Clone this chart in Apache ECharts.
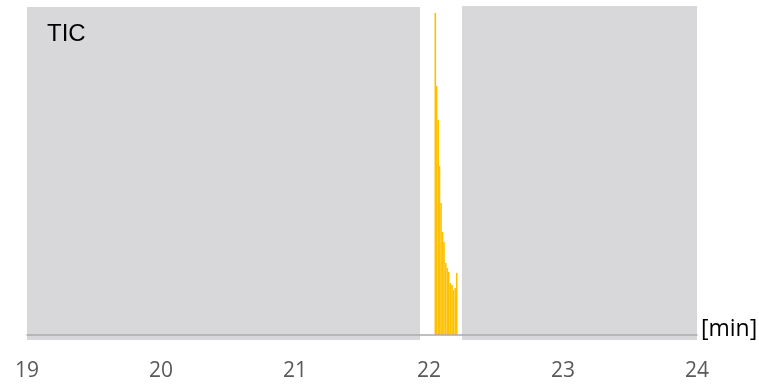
<!DOCTYPE html>
<html>
<head>
<meta charset="utf-8">
<script src="https://cdn.jsdelivr.net/npm/echarts@6/dist/echarts.min.js"></script>
<style>html,body{margin:0;padding:0;background:#fff}#c{width:759px;height:387px}</style>
</head>
<body>
<div id="c"></div>
<script>
// Retention time [min] of each scan
var times = [22.047, 22.057, 22.069, 22.078, 22.090, 22.101, 22.112, 22.125, 22.137, 22.147, 22.159, 22.172, 22.183, 22.196, 22.207];
// TIC intensity (relative units)
var intensities = [322, 249, 215, 169, 132, 103, 93, 72, 67, 63, 52, 50, 45, 47, 62];
// Excluded (shaded) time ranges [min]
var excludedRanges = [[19, 21.933], [22.246, 24]];
var xTicks = [19, 20, 21, 22, 23, 24];
var chartTitle = 'TIC';
var xUnit = '[min]';

var chart = echarts.init(document.getElementById('c'));
var barData = times.map(function (t, i) { return [t, intensities[i]]; });
chart.setOption({
  animation: false,
  grid: { left: 27, right: 62, top: 6, bottom: 47 },
  xAxis: {
    type: 'value', min: xTicks[0], max: xTicks[xTicks.length - 1], interval: 1, z: 5,
    axisLine: { onZero: true, lineStyle: { color: '#ABABAB', width: 1.5 } },
    axisTick: { show: false }, splitLine: { show: false },
    axisLabel: { color: '#595959', fontFamily: 'Open Sans', fontSize: 21, margin: 21 }
  },
  yAxis: { type: 'value', min: -5, max: 329, show: false, splitLine: { show: false } },
  series: [{
    type: 'bar', barWidth: 1.6, data: barData,
    itemStyle: { color: '#FFC000' },
    markArea: {
      silent: true,
      itemStyle: { color: '#D8D8DA' },
      data: excludedRanges.map(function (r, i) {
        return [{ xAxis: r[0], yAxis: -5 }, { xAxis: r[1], yAxis: i === 0 ? 328 : 329 }];
      })
    }
  }],
  graphic: [
    { type: 'text', z: 100, left: 47, top: 22, style: { text: chartTitle, fontFamily: 'Liberation Sans', fontSize: 24, fill: '#000' } },
    { type: 'text', z: 100, left: 701, top: 318, style: { text: xUnit, fontFamily: 'Open Sans', fontSize: 23, fill: '#000' } }
  ]
});
</script>
</body>
</html>
